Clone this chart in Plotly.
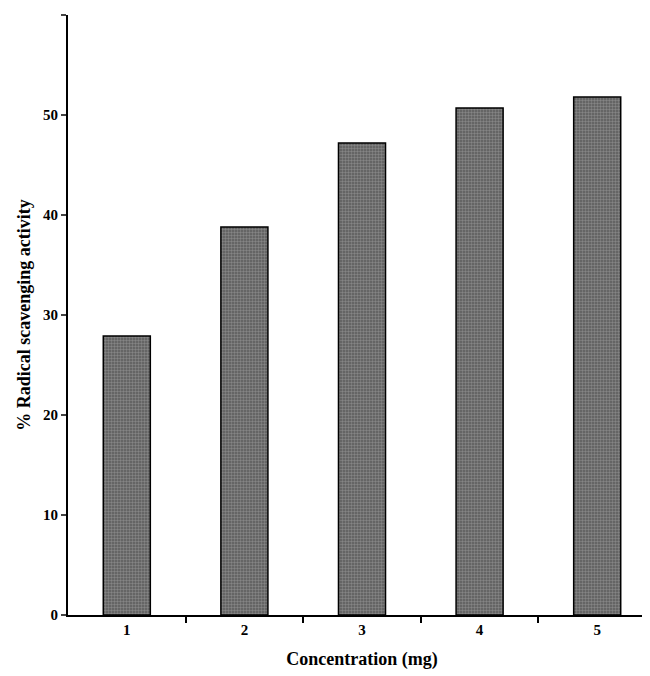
import plotly.graph_objects as go

concentracao = ['1', '2', '3', '4', '5']
atividade = [27.9, 38.8, 47.2, 50.7, 51.8]

fig = go.Figure()
fig.add_trace(go.Bar(x=[1, 2, 3, 4, 5], y=atividade, width=0.4,
                     marker=dict(color='#5a5a5a',
                                 pattern=dict(shape='.', fgcolor='#b0b0b0', size=3, solidity=0.5),
                                 line=dict(color='black', width=1.5))))
fig.update_xaxes(range=[0.5, 5.5], tickvals=[1, 2, 3, 4, 5], ticktext=concentracao,
                 showline=True, linecolor='black', linewidth=2, ticks='',
                 minor=dict(tickvals=[1.5, 2.5, 3.5, 4.5, 5.5], ticks='outside', ticklen=6,
                            tickcolor='black', tickwidth=2),
                 title_text='Concentration (mg)', showgrid=False, automargin=False)
fig.update_yaxes(range=[0, 60], dtick=10, showline=True, linecolor='black', linewidth=2,
                 ticks='outside', tickwidth=2, title_text='% Radical scavenging activity',
                 showgrid=False, zeroline=False, automargin=False, title_standoff=8)
fig.update_layout(width=650, height=676, plot_bgcolor='white', paper_bgcolor='white',
                  margin=dict(l=60, r=2, t=7, b=69), showlegend=False,
                  font=dict(family='Liberation Serif', size=15, color='black', weight='bold'))
fig.write_html('out.html')
